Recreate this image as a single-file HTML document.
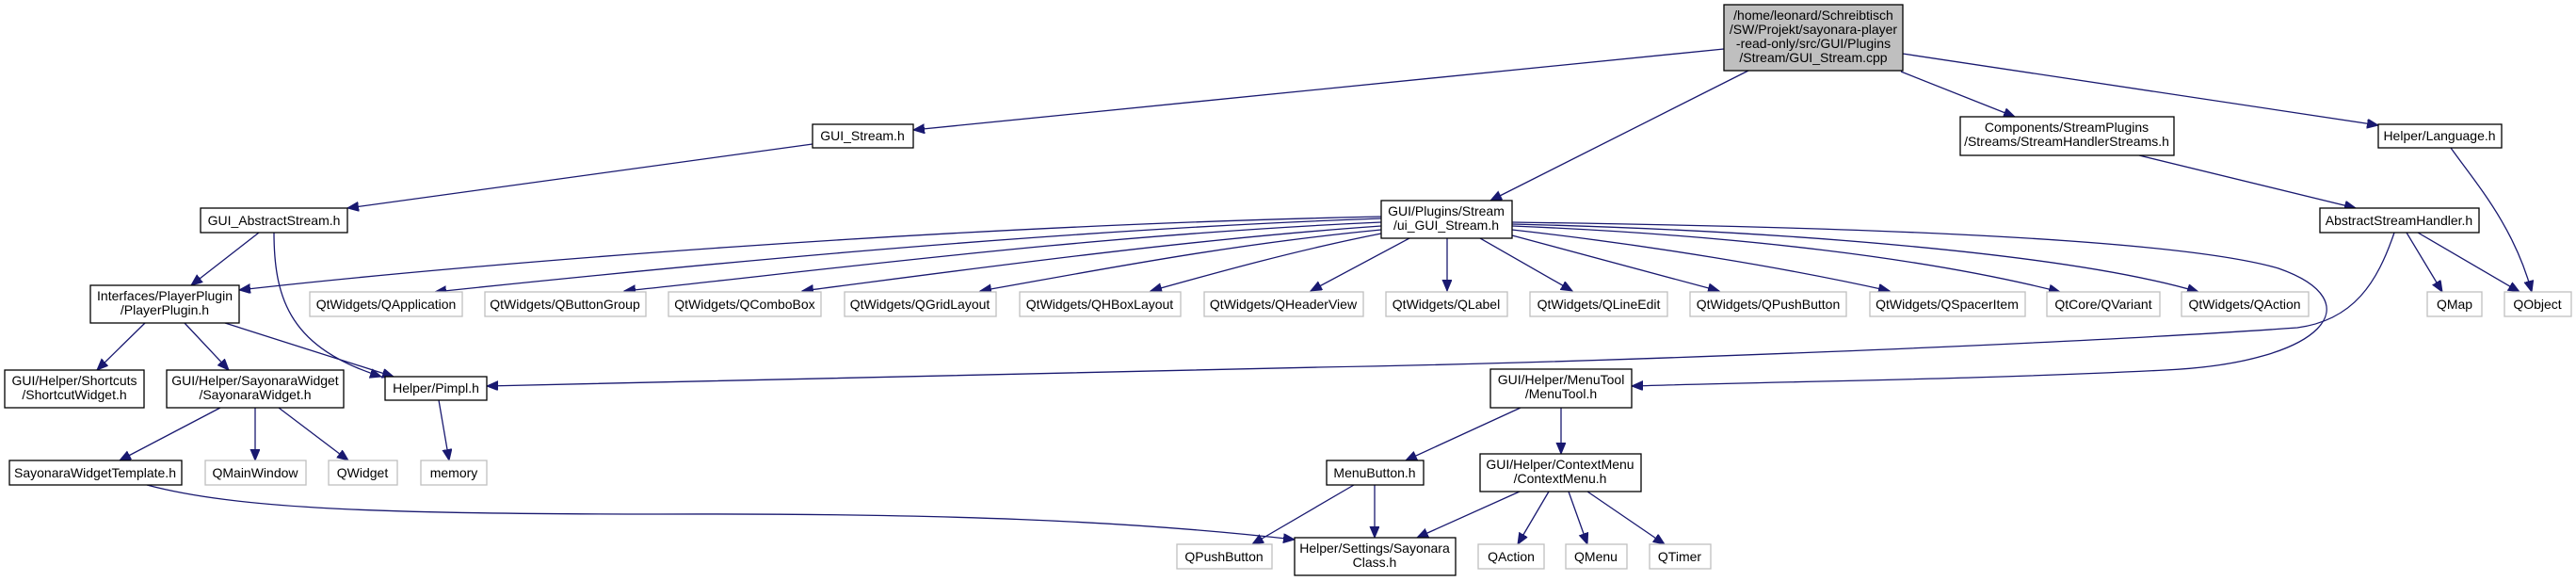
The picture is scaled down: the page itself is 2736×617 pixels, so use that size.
<!DOCTYPE html>
<html><head><meta charset="utf-8"><style>
html,body{margin:0;padding:0;background:#fff;}
svg{display:block;}
text{font-family:"Liberation Sans",sans-serif;font-size:14px;fill:#000;text-anchor:middle;}
.b{fill:#fff;stroke:#000;stroke-width:1.3;}
.g{fill:#fff;stroke:#bfbfbf;stroke-width:1.3;}
.e{fill:none;stroke:#191970;stroke-width:1.3;marker-end:url(#a);}
</style></head><body>
<svg width="2736" height="617" viewBox="0 0 2736 617" xmlns="http://www.w3.org/2000/svg">
<defs><marker id="a" markerUnits="userSpaceOnUse" markerWidth="14" markerHeight="12" refX="12" refY="5" orient="auto"><path d="M0,0 L12,5 L0,10 z" fill="#191970" stroke="#191970"/></marker></defs>

<!-- edges -->
<path class="e" d="M1831,52 L970,138"/>
<path class="e" d="M1857,75 L1583,213"/>
<path class="e" d="M2019,76 L2140,124"/>
<path class="e" d="M2021,57 L2526,133"/>
<path class="e" d="M863,153 L369,221"/>
<path class="e" d="M275,247 L203,303"/>
<path class="e" d="M291,247 C291,320 310,370 405,400"/>
<path class="e" d="M154,343 L103,393"/>
<path class="e" d="M196,343 L243,393"/>
<path class="e" d="M239,343 L418,400"/>
<path class="e" d="M234,433 L127,489"/>
<path class="e" d="M271,433 L271,489"/>
<path class="e" d="M296,433 L370,489"/>
<path class="e" d="M466,425 L477,489"/>
<path class="e" d="M156,515 C250,540 400,546 700,546 C1000,545 1200,553 1375,573"/>
<path class="e" d="M1467,230 C1000,240 500,280 254,308"/>
<path class="e" d="M1467,232 C1100,245 700,285 462,310"/>
<path class="e" d="M1467,236 C1150,250 850,290 663,309"/>
<path class="e" d="M1467,240 C1250,255 1000,290 852,309"/>
<path class="e" d="M1467,244 C1300,260 1150,290 1041,309"/>
<path class="e" d="M1467,248 C1380,265 1290,290 1222,309"/>
<path class="e" d="M1497,253 L1392,309"/>
<path class="e" d="M1537,253 L1537,309"/>
<path class="e" d="M1572,253 L1670,309"/>
<path class="e" d="M1606,250 L1826,309"/>
<path class="e" d="M1606,244 C1750,260 1900,285 2007,309"/>
<path class="e" d="M1606,240 C1850,250 2050,275 2188,310"/>
<path class="e" d="M1606,238 C1900,245 2200,270 2335,310"/>
<path class="e" d="M1606,236 C1900,240 2300,250 2420,285 C2520,320 2470,385 2300,393 C2100,403 1900,405 1733,410"/>
<path class="e" d="M2543,247 C2525,300 2500,340 2440,348 C2200,365 1700,385 1400,390 C1000,398 700,405 517,410"/>
<path class="e" d="M2272,165 L2502,221"/>
<path class="e" d="M2603,157 C2630,195 2670,240 2689,310"/>
<path class="e" d="M2556,247 L2594,310"/>
<path class="e" d="M2568,247 L2676,310"/>
<path class="e" d="M1615,433 L1493,489"/>
<path class="e" d="M1658,433 L1658,482"/>
<path class="e" d="M1614,522 L1505,571"/>
<path class="e" d="M1645,522 L1612,578"/>
<path class="e" d="M1666,522 L1686,578"/>
<path class="e" d="M1686,522 L1768,578"/>
<path class="e" d="M1438,515 L1330,578"/>
<path class="e" d="M1460,515 L1460,571"/>

<!-- nodes -->
<rect x="1831" y="5" width="190" height="70" fill="#bfbfbf" stroke="#000" stroke-width="1.3"/>
<text x="1926" y="21">/home/leonard/Schreibtisch</text>
<text x="1926" y="36">/SW/Projekt/sayonara-player</text>
<text x="1926" y="51">-read-only/src/GUI/Plugins</text>
<text x="1926" y="66">/Stream/GUI_Stream.cpp</text>

<rect class="b" x="863" y="132" width="107" height="25"/><text x="916" y="149">GUI_Stream.h</text>
<rect class="b" x="213" y="221" width="156" height="26"/><text x="291" y="239">GUI_AbstractStream.h</text>
<rect class="b" x="1467" y="213" width="139" height="40"/><text x="1536" y="229">GUI/Plugins/Stream</text><text x="1536" y="244">/ui_GUI_Stream.h</text>
<rect class="b" x="2082" y="124" width="227" height="41"/><text x="2195" y="140">Components/StreamPlugins</text><text x="2195" y="155">/Streams/StreamHandlerStreams.h</text>
<rect class="b" x="2526" y="132" width="131" height="25"/><text x="2591" y="149">Helper/Language.h</text>
<rect class="b" x="2464" y="221" width="169" height="26"/><text x="2548" y="239">AbstractStreamHandler.h</text>

<rect class="b" x="96" y="303" width="158" height="40"/><text x="175" y="319">Interfaces/PlayerPlugin</text><text x="175" y="334">/PlayerPlugin.h</text>
<rect class="g" x="329" y="310" width="162" height="26"/><text x="410" y="328">QtWidgets/QApplication</text>
<rect class="g" x="515" y="310" width="171" height="26"/><text x="600" y="328">QtWidgets/QButtonGroup</text>
<rect class="g" x="710" y="310" width="162" height="26"/><text x="791" y="328">QtWidgets/QComboBox</text>
<rect class="g" x="897" y="310" width="161" height="26"/><text x="977" y="328">QtWidgets/QGridLayout</text>
<rect class="g" x="1083" y="310" width="171" height="26"/><text x="1168" y="328">QtWidgets/QHBoxLayout</text>
<rect class="g" x="1279" y="310" width="169" height="26"/><text x="1363" y="328">QtWidgets/QHeaderView</text>
<rect class="g" x="1472" y="310" width="129" height="26"/><text x="1536" y="328">QtWidgets/QLabel</text>
<rect class="g" x="1625" y="310" width="146" height="26"/><text x="1698" y="328">QtWidgets/QLineEdit</text>
<rect class="g" x="1795" y="310" width="166" height="26"/><text x="1878" y="328">QtWidgets/QPushButton</text>
<rect class="g" x="1986" y="310" width="165" height="26"/><text x="2068" y="328">QtWidgets/QSpacerItem</text>
<rect class="g" x="2174" y="310" width="120" height="26"/><text x="2234" y="328">QtCore/QVariant</text>
<rect class="g" x="2317" y="310" width="135" height="26"/><text x="2384" y="328">QtWidgets/QAction</text>
<rect class="g" x="2578" y="310" width="58" height="26"/><text x="2607" y="328">QMap</text>
<rect class="g" x="2660" y="310" width="71" height="26"/><text x="2695" y="328">QObject</text>

<rect class="b" x="5" y="393" width="148" height="40"/><text x="79" y="409">GUI/Helper/Shortcuts</text><text x="79" y="424">/ShortcutWidget.h</text>
<rect class="b" x="177" y="393" width="188" height="40"/><text x="271" y="409">GUI/Helper/SayonaraWidget</text><text x="271" y="424">/SayonaraWidget.h</text>
<rect class="b" x="409" y="400" width="108" height="25"/><text x="463" y="417">Helper/Pimpl.h</text>
<rect class="b" x="1583" y="392" width="150" height="41"/><text x="1658" y="408">GUI/Helper/MenuTool</text><text x="1658" y="423">/MenuTool.h</text>

<rect class="b" x="10" y="489" width="183" height="26"/><text x="101" y="507">SayonaraWidgetTemplate.h</text>
<rect class="g" x="218" y="489" width="107" height="26"/><text x="271" y="507">QMainWindow</text>
<rect class="g" x="349" y="489" width="73" height="26"/><text x="385" y="507">QWidget</text>
<rect class="g" x="447" y="489" width="70" height="26"/><text x="482" y="507">memory</text>
<rect class="b" x="1409" y="489" width="103" height="26"/><text x="1460" y="507">MenuButton.h</text>
<rect class="b" x="1572" y="482" width="171" height="40"/><text x="1657" y="498">GUI/Helper/ContextMenu</text><text x="1657" y="513">/ContextMenu.h</text>

<rect class="g" x="1250" y="578" width="101" height="26"/><text x="1300" y="596">QPushButton</text>
<rect class="b" x="1375" y="571" width="171" height="40"/><text x="1460" y="587">Helper/Settings/Sayonara</text><text x="1460" y="602">Class.h</text>
<rect class="g" x="1570" y="578" width="70" height="26"/><text x="1605" y="596">QAction</text>
<rect class="g" x="1663" y="578" width="65" height="26"/><text x="1695" y="596">QMenu</text>
<rect class="g" x="1752" y="578" width="65" height="26"/><text x="1784" y="596">QTimer</text>
</svg>
</body></html>
